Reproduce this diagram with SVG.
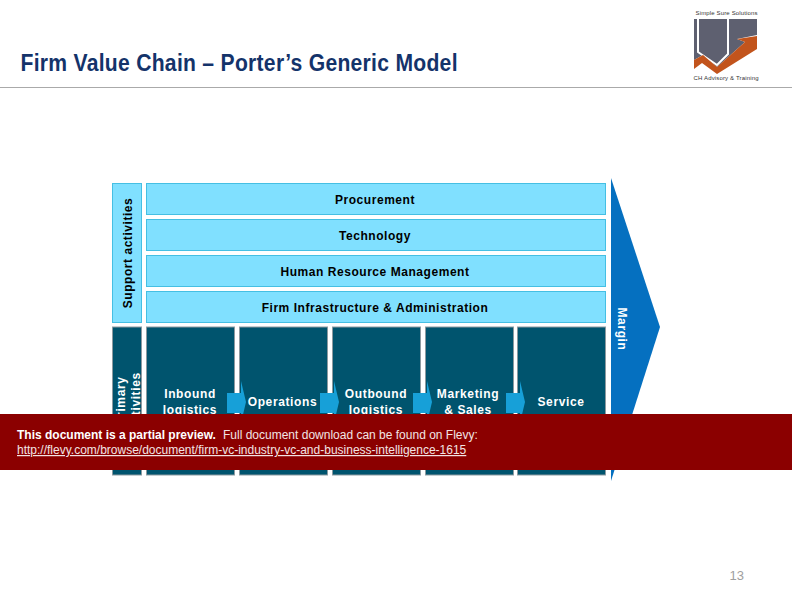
<svg xmlns="http://www.w3.org/2000/svg" width="792" height="612" viewBox="0 0 792 612">
<style>
text{font-family:"Liberation Sans",Arial,sans-serif}
.lt{fill:#80e0ff;stroke:#45bfe3;stroke-width:1}
.dk{fill:#00546e;stroke:#8c9aa0;stroke-width:1}
.b{font-weight:bold;font-size:12px;letter-spacing:.55px;fill:#000;text-anchor:middle}
.w{font-weight:bold;font-size:12px;letter-spacing:.62px;fill:#fff;text-anchor:middle}
.ch{fill:#17a0d8}
.ban{font-size:12px;fill:#f2e4e4}
.logo{font-size:6px;fill:#333;text-anchor:middle}
</style>
<rect width="792" height="612" fill="#fff"/>
<g id="title">
<text transform="translate(20.500,71) scale(.88,1)" font-size="24" font-weight="bold" fill="#14336a" textLength="496.600" lengthAdjust="spacing">Firm Value Chain – Porter’s Generic Model</text>
<line x1="0" y1="87.500" x2="792" y2="87.500" stroke="#aaa" stroke-width="1"/>
</g>
<g id="logo">
<text class="logo" x="726.500" y="15" textLength="62">Simple Sure Solutions</text>
<polygon points="694,19 757,19 757,35 737,39 745,42 717,67 703,55 694,60" fill="#5e6070"/>
<polyline points="698,19 698,52 717,65 728,54 728,19" fill="none" stroke="#fff" stroke-width="2"/>
<polygon points="694,60 703,55 717,67 745,42 737,39 757,36 757,49 717,74 702,63 694,69" fill="#c2541c"/>
<text class="logo" x="726" y="80" textLength="65">CH Advisory &amp; Training</text>
</g>
<g id="margin">
<polygon points="611,178 660,327 611,481" fill="#0570c0"/>
<text class="w" transform="translate(618,329) rotate(90)">Margin</text>
</g>
<g id="support-activities">
<rect class="lt" x="112.500" y="183.500" width="29" height="139"/>
<text class="b" transform="translate(132,253) rotate(-90)">Support activities</text>
</g>
<g id="procurement"><rect class="lt" x="146.500" y="183.500" width="459" height="31"/><text class="b" x="375" y="203.500">Procurement</text></g>
<g id="technology"><rect class="lt" x="146.500" y="219.500" width="459" height="31"/><text class="b" x="375" y="239.500">Technology</text></g>
<g id="hrm"><rect class="lt" x="146.500" y="255.500" width="459" height="31"/><text class="b" x="375" y="275.500">Human Resource Management</text></g>
<g id="infrastructure"><rect class="lt" x="146.500" y="291.500" width="459" height="31"/><text class="b" x="375" y="311.500">Firm Infrastructure &amp; Administration</text></g>
<g id="primary-activities">
<rect class="dk" x="112.500" y="327" width="29" height="148"/>
<text class="w" transform="translate(125,401) rotate(-90)">Primary</text>
<text class="w" transform="translate(140,401) rotate(-90)">activities</text>
</g>
<g id="inbound"><rect class="dk" x="146.500" y="327" width="88" height="148"/><text class="w" x="190" y="397.500">Inbound</text><text class="w" x="190" y="413.500">logistics</text></g>
<g id="operations"><rect class="dk" x="239.500" y="327" width="88" height="148"/><text class="w" x="282.500" y="405.500">Operations</text></g>
<g id="outbound"><rect class="dk" x="332.500" y="327" width="88" height="148"/><text class="w" x="376" y="397.500">Outbound</text><text class="w" x="376" y="413.500">logistics</text></g>
<g id="marketing"><rect class="dk" x="425.500" y="327" width="88" height="148"/><text class="w" x="468" y="397.500">Marketing</text><text class="w" x="468" y="413.500">&amp; Sales</text></g>
<g id="service"><rect class="dk" x="517.500" y="327" width="88" height="148"/><text class="w" x="561" y="405.500">Service</text></g>
<g id="connectors">
<polygon class="ch" points="227,393 241,393 241,381 246,402 241,423 241,413 227,413"/>
<polygon class="ch" points="320,393 334,393 334,381 339,402 334,423 334,413 320,413"/>
<polygon class="ch" points="413,393 427,393 427,381 432,402 427,423 427,413 413,413"/>
<polygon class="ch" points="506,393 520,393 520,381 525,402 520,423 520,413 506,413"/>
</g>
<g id="preview-banner">
<rect x="0" y="414" width="792" height="56" fill="#8b0000"/>
<text class="ban" x="17" y="439"><tspan font-weight="bold" fill="#fff">This document is a partial preview.</tspan><tspan x="223">Full document download can be found on Flevy:</tspan></text>
<text class="ban" x="17" y="454" text-decoration="underline">http://flevy.com/browse/document/firm-vc-industry-vc-and-business-intelligence-1615</text>
</g>
<g id="page-number"><text x="744" y="580" font-size="13" fill="#a0a0a0" text-anchor="end">13</text></g>
</svg>
